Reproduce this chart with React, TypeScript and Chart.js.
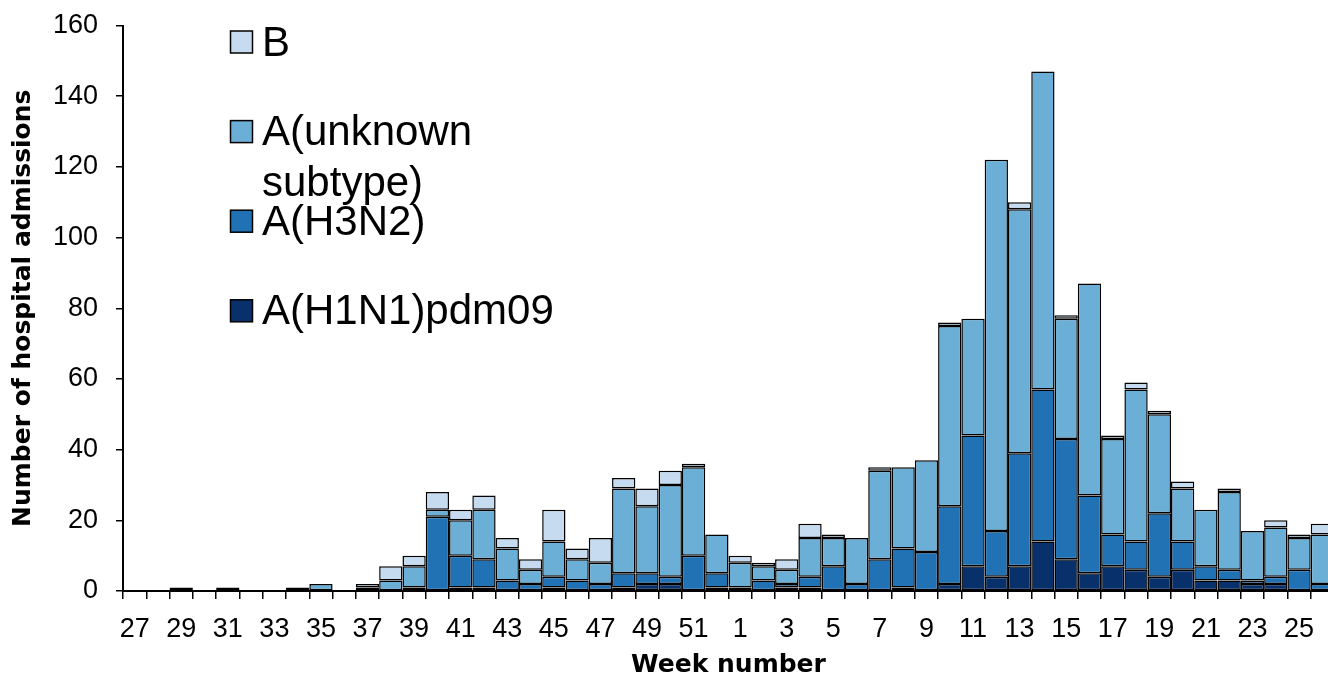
import React, { useEffect, useRef } from "react";
import { Chart, registerables } from "chart.js";

Chart.register(...registerables);

// ---- data (weeks 27..52 then 1..26) ----
const WEEK_LABELS = [
  "27", "28", "29", "30", "31", "32", "33", "34", "35", "36", "37", "38", "39",
  "40", "41", "42", "43", "44", "45", "46", "47", "48", "49", "50", "51", "52",
  "1", "2", "3", "4", "5", "6", "7", "8", "9", "10", "11", "12", "13",
  "14", "15", "16", "17", "18", "19", "20", "21", "22", "23", "24", "25", "26",
];

const H1N1 = [
  0, 0, 1, 0, 1, 0, 0, 0, 0, 0, 1, 0, 0,
  0, 1, 1, 0, 0, 1, 0, 0, 1, 2, 2, 0, 1,
  0, 0, 1, 1, 0, 0, 0, 1, 0, 2, 7, 4, 7,
  14, 9, 5, 7, 6, 4, 6, 3, 3, 2, 2, 0, 0,
];
const H3N2 = [
  0, 0, 0, 0, 0, 0, 0, 0, 0, 0, 0, 0, 1,
  21, 9, 8, 3, 2, 3, 3, 2, 4, 3, 2, 10, 4,
  1, 3, 1, 3, 7, 2, 9, 11, 11, 22, 37, 13, 32,
  43, 34, 22, 9, 8, 18, 8, 4, 3, 1, 2, 6, 2,
];
const A_UNKNOWN = [
  0, 0, 0, 0, 0, 0, 0, 0, 2, 0, 0, 3, 6,
  2, 10, 14, 9, 4, 10, 6, 6, 24, 19, 26, 25, 11,
  7, 4, 4, 11, 8, 13, 25, 23, 26, 51, 33, 105, 69,
  90, 34, 60, 27, 43, 28, 15, 16, 22, 14, 14, 9, 14,
];
const B = [
  0, 0, 0, 0, 0, 0, 0, 1, 0, 0, 1, 4, 3,
  5, 3, 4, 3, 3, 9, 3, 7, 3, 5, 4, 1, 0,
  2, 1, 3, 4, 1, 0, 1, 0, 0, 1, 0, 0, 2,
  0, 1, 0, 1, 2, 1, 2, 0, 1, 0, 2, 1, 3,
];

const SERIES_LABELS = ["A(H1N1)pdm09", "A(H3N2)", "A(unknown subtype)", "B"];
const SERIES_COLORS = ["#08306B", "#2171B5", "#6BAED6", "#C6DBEF"];
const Y_TICK_STEP = 20;
const Y_MAX = 160;

const FONT = '"Liberation Sans", Arial, sans-serif';
const TITLE_FONT = '"DejaVu Sans", "Liberation Sans", sans-serif';

const CANVAS_W = 1334;
const CANVAS_H = 678;

function wrapText(ctx: CanvasRenderingContext2D, text: string, maxW: number): string[] {
  const words = text.split(" ");
  const lines: string[] = [];
  let cur = "";
  for (const w of words) {
    const test = cur ? cur + " " + w : w;
    if (cur && ctx.measureText(test).width > maxW) {
      lines.push(cur);
      cur = w;
    } else {
      cur = test;
    }
  }
  if (cur) lines.push(cur);
  return lines;
}

const insideLegend = {
  id: "insideLegend",
  afterDraw(chart: any) {
    const ctx: CanvasRenderingContext2D = chart.ctx;
    ctx.save();
    ctx.font = `42px ${FONT}`;
    ctx.textBaseline = "middle";
    ctx.textAlign = "left";
    const items = [...chart.data.datasets].reverse();
    items.forEach((ds: any, k: number) => {
      const cy = 42 + k * 89.6;
      ctx.fillStyle = ds.backgroundColor;
      ctx.fillRect(230.5, cy - 11, 22, 22);
      ctx.strokeStyle = "#000";
      ctx.lineWidth = 1.5;
      ctx.strokeRect(230.5, cy - 11, 22, 22);
      ctx.fillStyle = "#000";
      const lines = wrapText(ctx, ds.label, 240);
      lines.forEach((ln, j) => ctx.fillText(ln, 262, cy + 2 + j * 51));
    });
    ctx.restore();
  },
};

export default function App() {
  const ref = useRef<HTMLCanvasElement | null>(null);

  useEffect(() => {
    if (!ref.current) return;
    const seriesData = [H1N1, H3N2, A_UNKNOWN, B];
    const chart = new Chart(ref.current, {
      type: "bar",
      data: {
        labels: WEEK_LABELS,
        datasets: seriesData.map((d, i) => ({
          label: SERIES_LABELS[i],
          data: d,
          backgroundColor: SERIES_COLORS[i],
          borderColor: "#000",
          borderWidth: 1.5,
          borderSkipped: false,
          inflateAmount: 0,
          barPercentage: 1,
          categoryPercentage: 1,
        })),
      },
      options: {
        responsive: false,
        animation: false,
        events: [],
        layout: { padding: { top: 25.5, left: 0, right: 0, bottom: 0 } },
        plugins: {
          legend: { display: false },
          tooltip: { enabled: false },
        },
        scales: {
          x: {
            stacked: true,
            offset: true,
            grid: {
              display: true,
              drawOnChartArea: false,
              drawTicks: true,
              tickLength: 8,
              color: "#000",
              lineWidth: 1.5,
              offset: true,
            },
            border: { display: true, color: "#000", width: 2 },
            ticks: {
              autoSkip: false,
              maxRotation: 0,
              minRotation: 0,
              padding: 14,
              color: "#000",
              font: { family: FONT, size: 27 },
              callback: (_v: any, idx: number) => (idx % 2 === 0 ? WEEK_LABELS[idx] : ""),
            },
            title: {
              display: true,
              text: "Week number",
              color: "#000",
              font: { family: TITLE_FONT, size: 25, weight: "bold", lineHeight: 1 },
              padding: { top: 0, bottom: 0 },
            },
            afterFit: (s: any) => {
              s.height = 87;
              s.paddingLeft = 0;
              s.paddingRight = 0;
            },
          },
          y: {
            stacked: true,
            min: 0,
            max: Y_MAX,
            ticks: {
              stepSize: Y_TICK_STEP,
              padding: 18,
              color: "#000",
              font: { family: FONT, size: 27 },
            },
            grid: {
              drawOnChartArea: false,
              drawTicks: true,
              tickLength: 7,
              color: "#000",
              lineWidth: 1.5,
            },
            border: { display: true, color: "#000", width: 2 },
            title: {
              display: true,
              text: "Number of hospital admissions",
              color: "#000",
              font: { family: TITLE_FONT, size: 25, weight: "bold", lineHeight: 1 },
              padding: { top: 11, bottom: 0 },
            },
            afterFit: (s: any) => {
              s.width = 123;
              s.paddingTop = 0;
              s.paddingBottom = 0;
            },
          },
        },
      } as any,
      plugins: [insideLegend],
    });
    return () => chart.destroy();
  }, []);

  return (
    <div
      style={{
        position: "fixed",
        left: 0,
        top: 0,
        width: 1328,
        height: 678,
        overflow: "hidden",
        background: "#fff",
      }}
    >
      <canvas
        ref={ref}
        width={CANVAS_W}
        height={CANVAS_H}
        style={{ width: CANVAS_W + "px", height: CANVAS_H + "px", display: "block" }}
      />
    </div>
  );
}
